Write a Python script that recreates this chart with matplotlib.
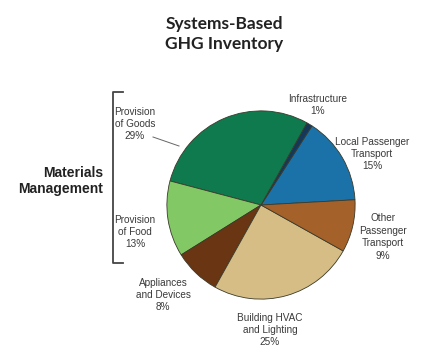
import matplotlib
matplotlib.use("Agg")
import matplotlib.pyplot as plt
from matplotlib.lines import Line2D

# ---- data ----
categories = ["Local Passenger\nTransport", "Infrastructure", "Provision\nof Goods",
              "Provision\nof Food", "Appliances\nand Devices", "Building HVAC\nand Lighting",
              "Other\nPassenger\nTransport"]
values = [15, 1, 29, 13, 8, 25, 9]
colors = ["#1a72a8", "#14385a", "#0f7a4e", "#82c864", "#6a3512", "#d6bd86", "#a4612a"]
title = "Systems-Based\nGHG Inventory"
group_label = "Materials\nManagement"

W, H = 424, 353
fig = plt.figure(figsize=(W / 100, H / 100), dpi=100)
fig.patch.set_facecolor("white")

def fx(x):
    return x / W

def fy(y):
    return 1 - y / H

cx, cy, r = 261, 205, 96
ax = fig.add_axes([fx(cx - r), fy(cy + r), 2 * r / W, 2 * r / H])
ax.pie(values, colors=colors, startangle=3.2, counterclock=True, radius=1,
       wedgeprops=dict(edgecolor="#3a3a2a", linewidth=0.6))
ax.set_xlim(-1.02, 1.02)
ax.set_ylim(-1.02, 1.02)
ax.set_aspect("equal")
ax.axis("off")

label_font = ["Liberation Sans Narrow", "Liberation Sans", "DejaVu Sans"]
label_pos = [(372, 154), (318, 105), (135, 124), (135, 232), (163, 295), (270, 330), (383, 237)]
for cat, v, (px, py) in zip(categories, values, label_pos):
    fig.text(fx(px), fy(py), f"{cat}\n{v}%", ha="center", va="center",
             fontsize=7.2, color="#3a3a3a", family=label_font, linespacing=1.3)

# leader line for Provision of Goods
fig.add_artist(Line2D([fx(153), fx(179)], [fy(137), fy(146)], color="#666666", lw=0.7))

# bracket
fig.add_artist(Line2D([fx(123), fx(113), fx(113), fx(123)],
                      [fy(92), fy(92), fy(263), fy(263)], color="#444444", lw=1.3))

fig.text(fx(103), fy(181), group_label, ha="right", va="center", fontsize=10,
         fontweight="bold", color="#222222", family=["Liberation Sans", "DejaVu Sans"],
         linespacing=1.2)

fig.text(fx(224), fy(34), title, ha="center", va="center", fontsize=12.5,
         fontweight="bold", color="#222222", family=["Lato", "DejaVu Sans"],
         linespacing=1.35)

fig.savefig("out.png", dpi=100, facecolor="white")
